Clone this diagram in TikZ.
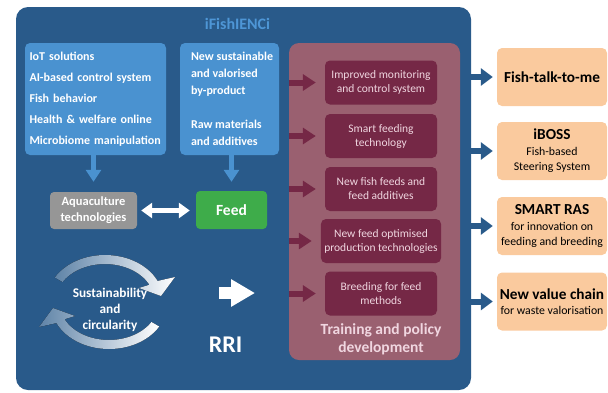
\documentclass[tikz,border=0pt]{standalone}
\usepackage{fontspec}
\setmainfont{Carlito}
\usetikzlibrary{arrows.meta}

\definecolor{panelblue}{RGB}{41,90,138}
\definecolor{boxblue}{RGB}{74,146,208}
\definecolor{titleblue}{RGB}{78,150,214}
\definecolor{dustyrose}{RGB}{154,96,112}
\definecolor{wine}{RGB}{117,40,70}
\definecolor{winetext}{RGB}{240,214,224}
\definecolor{peach}{RGB}{250,202,158}
\definecolor{techgray}{RGB}{150,150,150}
\definecolor{feedgreen}{RGB}{62,172,74}

\begin{document}
\begin{tikzpicture}[x=1pt,y=-1pt,
    inbox/.style={fill=boxblue, rounded corners=5pt, text=white, inner sep=0pt, align=left},
    stepbox/.style={fill=wine, rounded corners=5pt, minimum width=112pt, minimum height=44pt, text=winetext, align=center, font=\fontsize{11.5}{14}\selectfont},
    outbox/.style={fill=peach, rounded corners=5pt, minimum width=110pt, minimum height=58pt, inner sep=0pt, align=center, font=\fontsize{11.8}{15.5}\selectfont},
    turn/.style={left color=panelblue!75!white, middle color=white!88!panelblue, right color=white},
    downarr/.style={boxblue, line width=5pt, -{Triangle[width=15pt,length=12pt]}},
    winearr/.style={wine, line width=6pt, -{Triangle[width=16pt,length=13pt]}},
    outarr/.style={panelblue, line width=6pt, -{Triangle[width=17pt,length=12pt]}}]
        \useasboundingbox (0,0) rectangle (608,392);

        \node[fill=panelblue, rounded corners=12pt, minimum width=455pt, minimum height=383pt, inner sep=0pt] (main) at (243.5,198.5) {};
        \node[text=titleblue, font=\bfseries\fontsize{16}{18}\selectfont] (title) at (237.5,24) {iFishIENCi};

        \node[inbox, minimum width=141pt, minimum height=112pt, text width=132pt, font=\bfseries\fontsize{12}{21}\selectfont] (tech) at (95.5,99)
            {IoT solutions\\AI-based control system\\Fish behavior\\Health \& welfare online\\Microbiome manipulation};
        \node[inbox, minimum width=99pt, minimum height=112pt] (rawbox) at (229.5,99) {};
        \node[text=white, align=left, inner sep=0pt, anchor=west, font=\bfseries\fontsize{12}{17}\selectfont] (raw) at ([xshift=11pt]rawbox.west)
            {New sustainable\\and valorised\\by-product\\[17pt]Raw materials\\and additives};

        \node[fill=techgray, rounded corners=4pt, minimum width=87pt, minimum height=37pt, text=white, align=center, font=\bfseries\fontsize{12.5}{16}\selectfont] (aqua) at (93.5,210.5) {Aquaculture\\technologies};
        \node[fill=feedgreen, rounded corners=4pt, minimum width=71pt, minimum height=38pt, text=white, font=\bfseries\fontsize{15.5}{17}\selectfont] (feed) at (231.5,210) {Feed};

        \draw[downarr, shorten >=10pt] (tech.south -| aqua) -- (aqua.north);
        \draw[downarr, shorten >=9pt] (rawbox.south -| feed) -- (feed.north);
        \draw[white, line width=5pt, {Triangle[width=15pt,length=11pt]}-{Triangle[width=15pt,length=11pt]}, shorten <=4pt, shorten >=6pt] (aqua.east) -- (aqua.east -| feed.west);

        % the two turning arrows round the circularity label
        \fill[turn] plot[domain=-150:-25, samples=40] ({105+58*cos(\x)},{300+45*sin(\x)})
            -- (175,277) -- (161,296) -- (139,288)
            -- plot[domain=-25:-150, samples=40] ({105+49*cos(\x)},{300+36*sin(\x)}) -- cycle;
        \begin{scope}[rotate around={180:(107,302)}]
            \fill[turn] plot[domain=-150:-25, samples=40] ({105+58*cos(\x)},{300+45*sin(\x)})
                -- (175,277) -- (161,296) -- (139,288)
                -- plot[domain=-25:-150, samples=40] ({105+49*cos(\x)},{300+36*sin(\x)}) -- cycle;
        \end{scope}
        \node[text=white, align=center, font=\bfseries\fontsize{13.3}{16}\selectfont] (circ) at (110,310) {Sustainability\\and\\circularity};

        \node[text=white, font=\bfseries\fontsize{24}{26}\selectfont] (rri) at (225.5,345) {RRI};
        \coordinate (rrifrom) at (219,293);
        \coordinate (rrito) at (255,293);
        \draw[white, line width=12pt, -{Triangle[width=26pt,length=24pt]}] (rrifrom) -- (rrito);

        \node[fill=dustyrose, rounded corners=10pt, minimum width=171pt, minimum height=317pt, inner sep=0pt] (train) at (374.5,201.5) {};
        \node[stepbox] (s1) at (381,82.5) {Improved monitoring\\and control system};
        \node[stepbox] (s2) at (381,136) {Smart feeding\\technology};
        \node[stepbox] (s3) at (381,189) {New fish feeds and\\feed additives};
        \node[stepbox] (s4) at (381,241) {New feed optimised\\production technologies};
        \node[stepbox] (s5) at (381,293.5) {Breeding for feed\\methods};
        \node[text=winetext, align=center, font=\bfseries\fontsize{15.5}{18}\selectfont] (policy) at (381,339) {Training and policy\\development};

        \foreach \s in {s1,s2,s3,s4,s5}
            \draw[winearr, shorten >=9pt] (train.west |- \s) -- (\s.west);

        \node[outbox] (o1) at (552,77) {\bfseries\fontsize{15.3}{17}\selectfont Fish-talk-to-me};
        \node[outbox] (o2) at (552,151) {{\fontsize{15.3}{17}\selectfont\bfseries iBOSS}\\Fish-based\\Steering System};
        \node[outbox] (o3) at (552,226) {{\fontsize{15.3}{17}\selectfont\bfseries SMART RAS}\\for innovation on\\feeding and breeding};
        \node[outbox] (o4) at (552,301.5) {{\fontsize{15.3}{17}\selectfont\bfseries New value chain}\\for waste valorisation};

        \foreach \o in {o1,o2,o3,o4}
            \draw[outarr, shorten >=4pt] (main.east |- \o) -- (\o.west);

    \end{tikzpicture}
\end{document}
